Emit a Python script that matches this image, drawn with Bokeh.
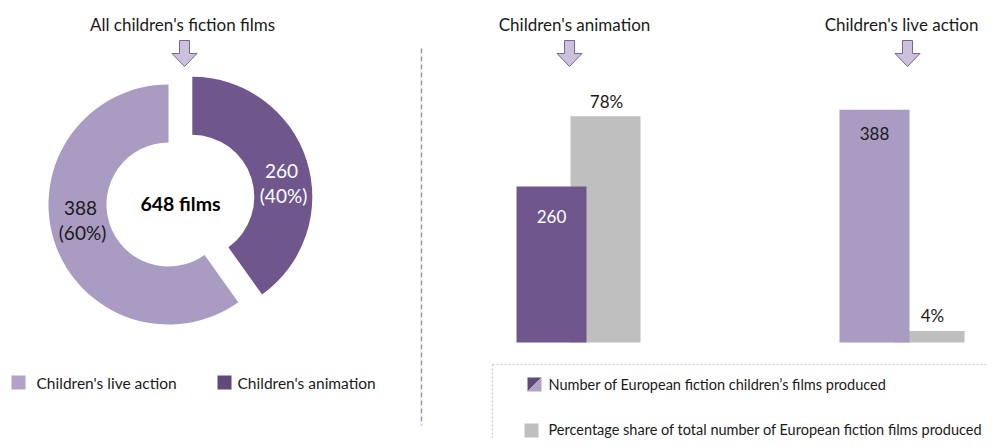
import math
from bokeh.plotting import figure
from bokeh.models import Range1d
from bokeh.core.properties import value
from bokeh.embed import file_html
from bokeh.resources import INLINE

# ---------------- data ----------------
donut_categories = ["Children's live action", "Children's animation"]
donut_values = [388, 260]
donut_title = "All children's fiction films"

bar_groups = ["Children's animation", "Children's live action"]
films_produced = [260, 388]
share_pct = [78, 4]

legend_right = ["Number of  European fiction children\u2019s films produced",
                "Percentage share of total number of European fiction films produced"]

# ---------------- styles ----------------
FONT = value("Lato")
DARK = "#6f578d"
LIGHT = "#a99bc1"
LEG_DARK = "#604a7b"
LEG_LIGHT = "#b3a2c8"
GREY = "#bfbfbf"
TXT = "#1a1a1a"
ARROW_FILL = "#ccc1dd"
ARROW_LINE = "#7a6598"

PW, PH = 987, 438


def Y(py):
    return PH - py


p = figure(width=PW, height=PH, x_range=Range1d(0, PW),
           y_range=Range1d(0, PH),
           output_backend="svg", toolbar_location=None, min_border=0,
           x_axis_location=None, y_axis_location=None,
           outline_line_color=None, background_fill_color="white",
           border_fill_color="white")
p.grid.visible = False

# value scales for bars (baseline at page y = 342)
base = Y(342)
s_films = 0.6   # px per film
s_pct = 2.9     # px per percent
p.extra_y_ranges = {
    "films": Range1d((0 - base) / s_films, (PH - base) / s_films),
    "pct": Range1d((0 - base) / s_pct, (PH - base) / s_pct),
}

# ---------------- headers & arrows ----------------
def arrow(cx, top=40):
    xs = [cx - 5, cx + 5, cx + 5, cx + 12.5, cx, cx - 12.5, cx - 5]
    ys = [top, top, top + 13, top + 13, top + 26, top + 13, top + 13]
    p.patch(xs, [Y(v) for v in ys], fill_color=ARROW_FILL, line_color=ARROW_LINE, line_width=1)

header_x = [182, 574, 901]
arrow_x = [184, 569, 907]
p.text(x=header_x, y=[Y(24)] * 3, text=[donut_title] + bar_groups,
       text_font=FONT, text_font_size="17px", text_align="center",
       text_baseline="middle", text_color=TXT)
for ax in arrow_x:
    arrow(ax)

# ---------------- donut ----------------
total = sum(donut_values)
cx, cy = 168, Y(204)
r_in, r_out = 62, 120
light_span = 2 * math.pi * donut_values[0] / total
dark_span = 2 * math.pi * donut_values[1] / total
start = math.pi / 2
# live action: counter-clockwise from top
p.annular_wedge(x=cx, y=cy, inner_radius=r_in, outer_radius=r_out,
                start_angle=start, end_angle=start + light_span,
                fill_color=LIGHT, line_color=None)
# animation: exploded slice clockwise from top
mid = start - dark_span / 2
d = 25
p.annular_wedge(x=cx + d * math.cos(mid), y=cy + d * math.sin(mid),
                inner_radius=r_in, outer_radius=r_out,
                start_angle=start - dark_span, end_angle=start,
                fill_color=DARK, line_color=None)

pcts = [round(100 * v / total) for v in donut_values]
p.text(x=[80, 82], y=[Y(207), Y(232)],
       text=[str(donut_values[0]), "(%d%%)" % pcts[0]],
       text_font=FONT, text_font_size="19px", text_align="center",
       text_baseline="middle", text_color=TXT)
p.text(x=[281, 283], y=[Y(170), Y(195)],
       text=[str(donut_values[1]), "(%d%%)" % pcts[1]],
       text_font=FONT, text_font_size="19px", text_align="center",
       text_baseline="middle", text_color="white")
p.text(x=[180], y=[Y(203)], text=["%d films" % total],
       text_font=FONT, text_font_size="19.5px", text_font_style="bold",
       text_align="center", text_baseline="middle", text_color="black")

# ---------------- left legend ----------------
p.rect(x=[18, 224], y=[Y(382)] * 2, width=14, height=14,
       fill_color=[LEG_LIGHT, LEG_DARK], line_color=None)
p.text(x=[36, 237], y=[Y(382)] * 2, text=donut_categories,
       text_font=FONT, text_font_size="15.5px", text_align="left",
       text_baseline="middle", text_color=TXT)

# divider
p.segment(x0=[421], y0=[Y(48)], x1=[421], y1=[Y(425)],
          line_color="#9d91b9", line_width=1.5, line_dash="5 3")

# ---------------- bars ----------------
purple_x = [551, 874]
grey_x = [605, 929]
p.vbar(x=grey_x, top=share_pct, bottom=0, width=70, fill_color=GREY,
       line_color=None, y_range_name="pct")
p.vbar(x=purple_x, top=films_produced, bottom=0, width=70,
       fill_color=[DARK, LIGHT], line_color=None, y_range_name="films")
p.text(x=purple_x, y=films_produced, text=[str(v) for v in films_produced],
       y_offset=[30, 24], text_font=FONT, text_font_size="17px",
       text_align="center", text_baseline="middle",
       text_color=["white", TXT], y_range_name="films")
p.text(x=[606, 932], y=share_pct, text=["%d%%" % v for v in share_pct],
       y_offset=-15, text_font=FONT, text_font_size="17px",
       text_align="center", text_baseline="middle", text_color=TXT,
       y_range_name="pct")

# ---------------- right legend ----------------
p.segment(x0=[492, 492], y0=[Y(364), Y(364)], x1=[PW, 492], y1=[Y(364), Y(PH)],
          line_color="#cdc5df", line_width=1.2, line_dash="2 2")
# split square
p.patch([527, 541, 527], [Y(377), Y(377), Y(391)], fill_color=LEG_DARK, line_color=None)
p.patch([541, 541, 527], [Y(377), Y(391), Y(391)], fill_color=LEG_LIGHT, line_color=None)
p.rect(x=[531], y=[Y(430)], width=14, height=14, fill_color=GREY, line_color=None)
p.text(x=[548, 548], y=[Y(384), Y(429)], text=legend_right,
       text_font=FONT, text_font_size="14.5px", text_align="left",
       text_baseline="middle", text_color=TXT)

open("out.html", "w").write(file_html(p, INLINE))
